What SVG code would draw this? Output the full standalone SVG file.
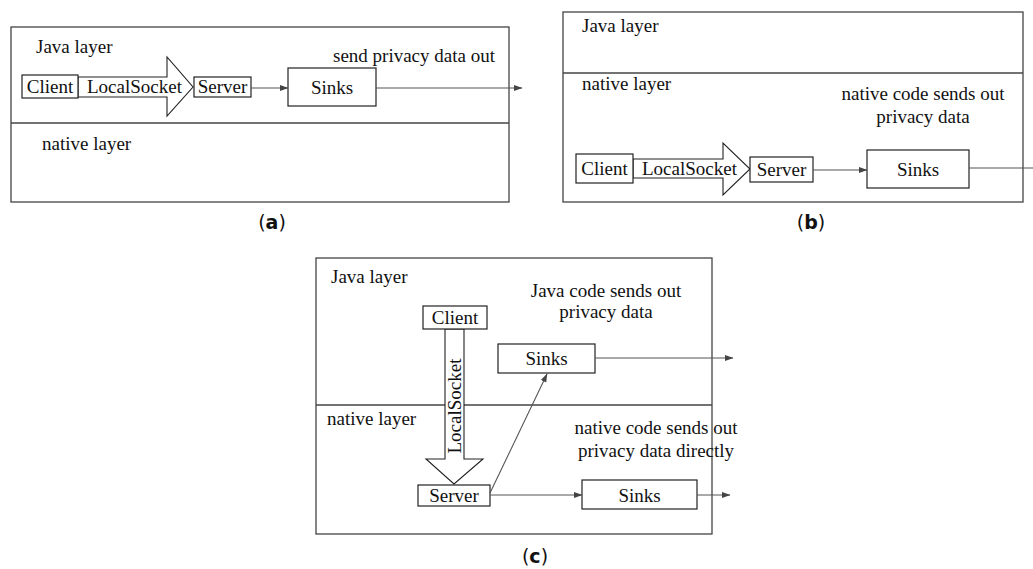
<svg xmlns="http://www.w3.org/2000/svg" width="1033" height="569" viewBox="0 0 1033 569">
<defs>
<marker id="ah" markerWidth="9" markerHeight="7" refX="8" refY="3.5" orient="auto" markerUnits="userSpaceOnUse">
<path d="M0,0.5 L8.5,3.5 L0,6.5 z" fill="#444"/>
</marker>
<style>
.t{font-family:'Liberation Serif','Times New Roman','DejaVu Serif',serif;font-size:19px;fill:#111}
.frame{fill:none;stroke:#444;stroke-width:1.3}
.box{fill:#fff;stroke:#222;stroke-width:1.2}
.big{fill:#fff;stroke:#222;stroke-width:1.1}
.conn{fill:none;stroke:#555;stroke-width:1.1}
.mid{text-anchor:middle}
.cap{font-family:'DejaVu Sans','Liberation Sans',sans-serif;font-size:19px;text-anchor:middle;fill:#111}
</style>
</defs>

<g class="t" font-family="Liberation Serif, Times New Roman, serif">
<!-- Panel (a) -->
<g id="panel-a">
<rect class="frame" x="11" y="27" width="498" height="175"/>
<line class="frame" x1="11" y1="123" x2="509" y2="123"/>
<text x="36" y="53">Java layer</text>
<text x="42" y="150">native layer</text>
<text x="333" y="62">send privacy data out</text>
</g>
<g id="a-localsocket">
<path class="big" d="M78,77 H167 V57 L193,87 L167,116 V97 H78 Z"/>
<text x="87" y="93">LocalSocket</text>
</g>
<g id="a-client">
<rect class="box" x="22" y="75" width="56" height="23"/>
<text class="mid" x="50" y="93">Client</text>
</g>
<g id="a-server">
<rect class="box" x="194" y="77" width="57" height="20"/>
<text class="mid" x="222.5" y="93">Server</text>
</g>
<g id="a-sinks">
<rect class="box" x="288" y="68" width="88" height="38"/>
<text class="mid" x="332" y="94">Sinks</text>
</g>

<!-- Panel (b) -->
<g id="panel-b">
<rect class="frame" x="563" y="12" width="460" height="190"/>
<line class="frame" x1="563" y1="73" x2="1023" y2="73"/>
<text x="582" y="32">Java layer</text>
<text x="582" y="90">native layer</text>
<text class="mid" x="923" y="100">native code sends out</text>
<text class="mid" x="923" y="123">privacy data</text>
</g>
<g id="b-localsocket">
<path class="big" d="M633,159 H723 V143 L750,169 L723,195 V178 H633 Z"/>
<text x="642" y="175">LocalSocket</text>
</g>
<g id="b-client">
<rect class="box" x="576" y="154" width="57" height="29"/>
<text class="mid" x="604.5" y="175">Client</text>
</g>
<g id="b-server">
<rect class="box" x="750" y="157" width="63" height="25"/>
<text class="mid" x="781.5" y="176">Server</text>
</g>
<g id="b-sinks">
<rect class="box" x="867" y="150" width="102" height="38"/>
<text class="mid" x="918" y="176">Sinks</text>
</g>

<!-- Panel (c) -->
<g id="panel-c">
<rect class="frame" x="316" y="258" width="396" height="276"/>
<line class="frame" x1="316" y1="405" x2="712" y2="405"/>
<text x="331" y="283">Java layer</text>
<text x="327" y="425">native layer</text>
<text class="mid" x="606" y="297">Java code sends out</text>
<text class="mid" x="606" y="318">privacy data</text>
<text class="mid" x="656" y="434">native code sends out</text>
<text class="mid" x="656" y="457">privacy data directly</text>
</g>
<g id="c-localsocket">
<path class="big" d="M445,329 V459 H426 L454,484 L483,459 H464 V329 Z"/>
<text class="mid" transform="translate(461,406) rotate(-90)">LocalSocket</text>
</g>
<g id="c-client">
<rect class="box" x="423" y="306" width="64" height="23"/>
<text class="mid" x="455" y="324">Client</text>
</g>
<g id="c-server">
<rect class="box" x="418" y="485" width="72" height="21"/>
<text class="mid" x="454" y="502">Server</text>
</g>
<g id="c-sinks-java">
<rect class="box" x="498" y="344" width="97" height="29"/>
<text class="mid" x="546.5" y="365">Sinks</text>
</g>
<g id="c-sinks-native">
<rect class="box" x="582" y="480" width="115" height="29"/>
<text class="mid" x="639.5" y="502">Sinks</text>
</g>

<!-- Connectors -->
<g id="connectors">
<line class="conn" x1="251" y1="88" x2="288" y2="88" marker-end="url(#ah)"/>
<line class="conn" x1="376" y1="88" x2="522" y2="88" marker-end="url(#ah)"/>
<line class="conn" x1="813" y1="170" x2="867" y2="170" marker-end="url(#ah)"/>
<line class="conn" x1="969" y1="168" x2="1033" y2="168"/>
<line class="conn" x1="595" y1="358" x2="733" y2="358" marker-end="url(#ah)"/>
<line class="conn" x1="490" y1="493" x2="547" y2="374" marker-end="url(#ah)"/>
<line class="conn" x1="490" y1="495" x2="582" y2="495" marker-end="url(#ah)"/>
<line class="conn" x1="697" y1="495" x2="730" y2="495" marker-end="url(#ah)"/>
</g>
</g>

<!-- Captions -->
<g id="captions">
<text class="cap" x="272" y="229">(<tspan font-weight="bold">a</tspan>)</text>
<text class="cap" x="811" y="229">(<tspan font-weight="bold">b</tspan>)</text>
<text class="cap" x="535" y="563">(<tspan font-weight="bold">c</tspan>)</text>
</g>
</svg>
